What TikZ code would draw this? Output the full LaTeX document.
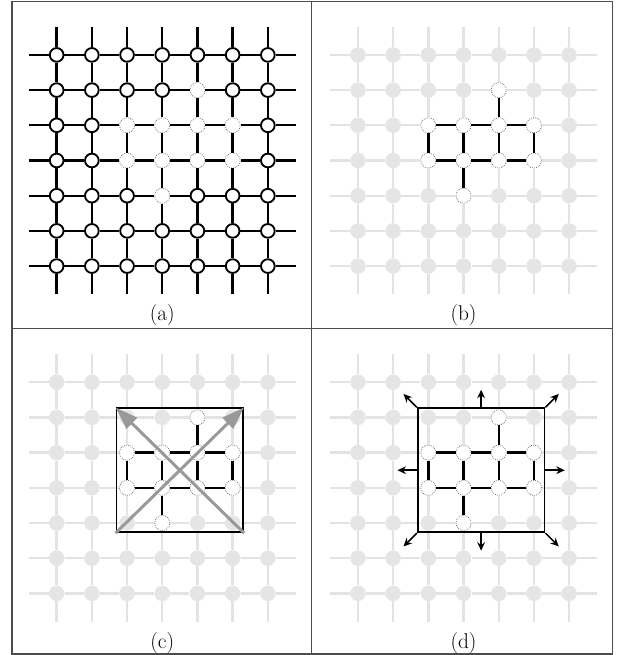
\documentclass[tikz,border=0pt]{standalone}
\usepackage{tikz}
\usetikzlibrary{arrows.meta}
\tikzset{
  vtx/.style      ={circle, draw=black, line width=1.5pt, fill=white,
                    minimum size=3.9mm, inner sep=0pt},
  hole/.style     ={circle, draw=black!60, densely dotted, line width=0.6pt,
                    fill=white, minimum size=4.3mm, inner sep=0pt},
  ghost/.style    ={circle, fill=black!10, minimum size=4.4mm, inner sep=0pt},
  bond/.style     ={line width=1.9pt, draw=black},
  faint/.style    ={line width=1.9pt, draw=black!11},
  box/.style      ={rectangle, draw=black, line width=1.5pt, inner sep=0pt,
                    minimum width=36mm, minimum height=35.2mm},
  diagarrow/.style={-{Triangle[length=6.5mm,width=4.2mm]}, line width=2.4pt, draw=black!40},
  outarrow/.style ={-{Stealth[length=2.4mm,width=2.2mm]}, line width=1.2pt},
  tabline/.style  ={line width=0.9pt, draw=black!70},
  lbl/.style      ={font=\LARGE},
}
% sites of the cluster
\newcommand{\subnodes}{4-1,2-2,3-2,4-2,5-2,2-3,3-3,4-3,5-3,3-4}
\foreach \p in \subnodes {\expandafter\gdef\csname sub\p\endcsname{}}
% 7x7 lattice: #1 prefix, #2 site style, #3 bond style
\newcommand{\lattice}[3]{%
  \foreach \x in {0,...,6} \foreach \y in {0,...,6} {
    \ifcsname sub\x-\y\endcsname
      \node[hole] (#1\x-\y) at (\x,-\y) {};
    \else
      \node[#2] (#1\x-\y) at (\x,-\y) {};
    \fi}
  \foreach \k in {0,...,6} {
    \coordinate (#1n\k) at (\k,0.8);
    \coordinate (#1s\k) at (\k,-6.8);
    \coordinate (#1w\k) at (-0.8,-\k);
    \coordinate (#1e\k) at (6.8,-\k);
    \draw[#3] (#1n\k) -- (#1\k-0);
    \draw[#3] (#1\k-6) -- (#1s\k);
    \draw[#3] (#1w\k) -- (#10-\k);
    \draw[#3] (#16-\k) -- (#1e\k);
  }
  \foreach \k [evaluate=\k as \m using int(\k+1)] in {0,...,5}
    \foreach \l in {0,...,6} {
      \draw[#3] (#1\k-\l) -- (#1\m-\l);
      \draw[#3] (#1\l-\k) -- (#1\l-\m);
    }
}
% bonds inside the cluster
\newcommand{\subedges}[1]{%
  \foreach \u/\v in {4-1/4-2,2-2/3-2,3-2/4-2,4-2/5-2,2-3/3-3,3-3/4-3,4-3/5-3,
                     2-2/2-3,3-2/3-3,4-2/4-3,5-2/5-3,3-3/3-4}
    \draw[bond] (#1\u) -- (#1\v);
}

\begin{document}
\begin{tikzpicture}
  \useasboundingbox (-1.61,1.56) rectangle (15.92,-17.05);
  % table rules
  \draw[tabline] (-1.27,1.51) rectangle (15.78,-17.02);
  \draw[tabline] (7.25,1.51) -- (7.25,-17.02);
  \draw[tabline] (-1.27,-7.78) -- (15.78,-7.78);

  % (a)
  \lattice{a}{vtx}{bond}
  \node[lbl] (la) at (3,-7.39) {(a)};

  % (b)
  \begin{scope}[xshift=8.56cm]
    \lattice{b}{ghost}{faint}
    \subedges{b}
    \node[lbl] (lb) at (3,-7.39) {(b)};
  \end{scope}

  % (c)
  \begin{scope}[yshift=-9.3cm]
    \lattice{c}{ghost}{faint}
    \subedges{c}
    \node[box] (cbox) at (3.5,-2.5) {};
    \draw[diagarrow] (cbox.south west) -- (cbox.north east);
    \draw[diagarrow] (cbox.south east) -- (cbox.north west);
    \node[lbl] (lc) at (3,-7.41) {(c)};
  \end{scope}

  % (d)
  \begin{scope}[shift={(8.56,-9.3)}]
    \lattice{d}{ghost}{faint}
    \subedges{d}
    \node[box] (dbox) at (3.5,-2.5) {};
    \foreach \a/\d in {north/{(0,0.5)},south/{(0,-0.5)},east/{(0.55,0)},west/{(-0.55,0)},
                       north east/{(0.38,0.38)},north west/{(-0.38,0.38)},
                       south east/{(0.38,-0.38)},south west/{(-0.38,-0.38)}}
      \draw[outarrow] (dbox.\a) -- ++\d;
    \node[lbl] (ld) at (3,-7.41) {(d)};
  \end{scope}
\end{tikzpicture}
\end{document}
